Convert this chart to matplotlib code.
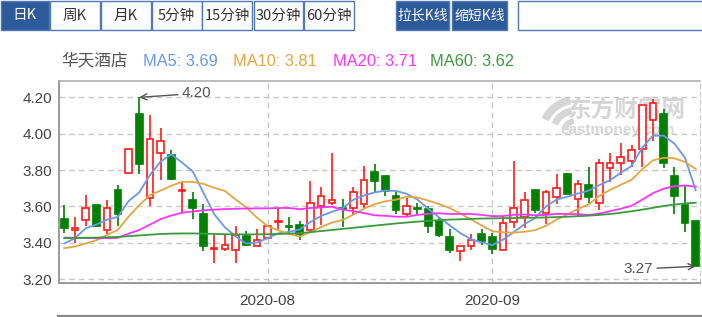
import matplotlib
matplotlib.use("Agg")
import matplotlib.pyplot as plt
from matplotlib.patches import Rectangle, Wedge
from matplotlib.lines import Line2D
from matplotlib.transforms import IdentityTransform
import numpy as np

plt.rcParams['font.family'] = ['Liberation Sans', 'Noto Sans CJK SC', 'DejaVu Sans']

# ---------------- data ----------------
stock_name = "华天酒店"
tab_labels = ["日K", "周K", "月K", "5分钟", "15分钟", "30分钟", "60分钟"]
button_labels = ["拉长K线", "缩短K线"]
month_labels = ["2020-08", "2020-09"]
month_positions = [19, 40]
y_ticks = [3.20, 3.40, 3.60, 3.80, 4.00, 4.20]

opens = [3.529, 3.472, 3.527, 3.608, 3.471, 3.690, 3.785, 4.109, 3.648, 3.892,
         3.880, 3.684, 3.635, 3.560, 3.363, 3.364, 3.361, 3.438, 3.383, 3.424,
         3.513, 3.492, 3.498, 3.471, 3.602, 3.620, 3.592, 3.589, 3.611, 3.790,
         3.767, 3.657, 3.556, 3.590, 3.584, 3.520, 3.432, 3.355, 3.383, 3.450,
         3.429, 3.361, 3.516, 3.542, 3.688, 3.566, 3.652, 3.780, 3.642, 3.717,
         3.620, 3.812, 3.840, 3.849, 3.918, 4.078, 4.109, 3.767, 3.608, 3.520]
highs = [3.606, 3.544, 3.661, 3.610, 3.635, 3.716, 3.918, 4.200, 4.101, 4.033,
         3.909, 3.739, 3.681, 3.611, 3.443, 3.443, 3.492, 3.465, 3.474, 3.500,
         3.589, 3.544, 3.520, 3.739, 3.706, 3.895, 3.642, 3.706, 3.822, 3.834,
         3.767, 3.681, 3.644, 3.620, 3.602, 3.542, 3.474, 3.383, 3.447, 3.474,
         3.456, 3.547, 3.849, 3.681, 3.690, 3.688, 3.780, 3.785, 3.743, 3.815,
         3.858, 3.895, 3.950, 3.937, 4.156, 4.190, 4.138, 3.816, 3.717, 3.520]
lows = [3.452, 3.397, 3.492, 3.486, 3.450, 3.492, 3.785, 3.776, 3.602, 3.745,
        3.745, 3.569, 3.529, 3.355, 3.291, 3.355, 3.291, 3.383, 3.380, 3.420,
        3.474, 3.456, 3.414, 3.461, 3.498, 3.610, 3.489, 3.553, 3.589, 3.681,
        3.657, 3.556, 3.542, 3.556, 3.456, 3.429, 3.341, 3.301, 3.359, 3.388,
        3.337, 3.358, 3.480, 3.483, 3.566, 3.502, 3.615, 3.663, 3.542, 3.620,
        3.578, 3.736, 3.772, 3.816, 3.816, 3.962, 3.812, 3.556, 3.461, 3.270]
closes = [3.480, 3.483, 3.589, 3.492, 3.589, 3.556, 3.918, 3.831, 3.971, 3.961,
          3.748, 3.692, 3.589, 3.383, 3.372, 3.388, 3.443, 3.388, 3.414, 3.493,
          3.520, 3.487, 3.450, 3.620, 3.657, 3.635, 3.586, 3.681, 3.743, 3.739,
          3.684, 3.578, 3.602, 3.584, 3.492, 3.443, 3.361, 3.383, 3.414, 3.410,
          3.365, 3.511, 3.589, 3.635, 3.578, 3.681, 3.703, 3.670, 3.721, 3.653,
          3.836, 3.840, 3.873, 3.909, 4.156, 4.169, 3.840, 3.657, 3.511, 3.270]

ma5 = [3.396, 3.425, 3.480, 3.500, 3.527, 3.542, 3.629, 3.677, 3.773, 3.847,
       3.886, 3.841, 3.792, 3.675, 3.557, 3.485, 3.435, 3.395, 3.401, 3.425,
       3.452, 3.460, 3.473, 3.514, 3.547, 3.570, 3.590, 3.636, 3.660, 3.677,
       3.687, 3.685, 3.669, 3.637, 3.588, 3.540, 3.496, 3.453, 3.419, 3.402,
       3.387, 3.417, 3.458, 3.502, 3.536, 3.599, 3.637, 3.653, 3.671, 3.686,
       3.717, 3.744, 3.785, 3.822, 3.923, 3.989, 3.989, 3.946, 3.867, 3.689]
ma10 = [3.370, 3.379, 3.396, 3.414, 3.443, 3.471, 3.543, 3.607, 3.662, 3.687,
        3.714, 3.735, 3.735, 3.724, 3.702, 3.685, 3.638, 3.594, 3.538, 3.491,
        3.468, 3.448, 3.434, 3.458, 3.486, 3.511, 3.525, 3.554, 3.587, 3.612,
        3.628, 3.637, 3.653, 3.649, 3.632, 3.613, 3.591, 3.561, 3.528, 3.495,
        3.463, 3.457, 3.455, 3.460, 3.469, 3.493, 3.527, 3.556, 3.586, 3.611,
        3.658, 3.691, 3.719, 3.746, 3.804, 3.853, 3.867, 3.865, 3.844, 3.806]
ma20 = [3.428, 3.427, 3.426, 3.425, 3.425, 3.427, 3.450, 3.470, 3.500, 3.530,
        3.550, 3.565, 3.572, 3.578, 3.582, 3.585, 3.587, 3.588, 3.589, 3.589,
        3.591, 3.591, 3.584, 3.591, 3.594, 3.598, 3.581, 3.574, 3.563, 3.551,
        3.548, 3.543, 3.543, 3.553, 3.559, 3.562, 3.558, 3.558, 3.558, 3.553,
        3.546, 3.547, 3.554, 3.555, 3.551, 3.553, 3.559, 3.558, 3.557, 3.553,
        3.560, 3.574, 3.587, 3.603, 3.637, 3.673, 3.697, 3.711, 3.715, 3.708]
ma60 = [3.425, 3.426, 3.427, 3.428, 3.430, 3.432, 3.436, 3.440, 3.444, 3.448,
        3.450, 3.451, 3.451, 3.450, 3.448, 3.447, 3.446, 3.446, 3.446, 3.447,
        3.448, 3.450, 3.453, 3.458, 3.464, 3.470, 3.476, 3.482, 3.488, 3.494,
        3.500, 3.506, 3.511, 3.516, 3.520, 3.524, 3.527, 3.529, 3.531, 3.533,
        3.534, 3.535, 3.536, 3.537, 3.538, 3.539, 3.541, 3.543, 3.546, 3.549,
        3.553, 3.558, 3.565, 3.573, 3.582, 3.592, 3.602, 3.610, 3.616, 3.620]

# ---------------- figure ----------------
W, H = 702, 317
fig = plt.figure(figsize=(W / 100, H / 100), dpi=100)
fig.patch.set_facecolor('white')


def fx(x):
    return x / W


def fy(y):
    return 1 - y / H


CJK = ['Noto Sans CJK SC', 'DejaVu Sans']
DARK = '#2c5a9b'
BORDER = '#5079b5'

# tabs
tab_edges = [0, 49, 100, 151, 202, 253, 303, 354]
for i, lab in enumerate(tab_labels):
    x0, x1 = tab_edges[i] + 0.5, tab_edges[i + 1] - 0.5
    sel = (i == 0)
    fig.add_artist(Rectangle((fx(x0), fy(30)), fx(x1 - x0), 29 / H,
                             transform=fig.transFigure,
                             facecolor=DARK if sel else 'white',
                             edgecolor=BORDER, lw=1.0))
    fig.text(fx((x0 + x1) / 2), fy(15.5), lab, ha='center', va='center',
             fontsize=10.5, color='white' if sel else '#333333', family=CJK)

# buttons
for lab, (x0, x1) in zip(button_labels, [(396, 449), (452, 507)]):
    fig.add_artist(Rectangle((fx(x0), fy(30)), fx(x1 - x0), 29 / H,
                             transform=fig.transFigure,
                             facecolor=DARK, edgecolor=BORDER, lw=1.0))
    fig.text(fx((x0 + x1) / 2), fy(15.5), lab, ha='center', va='center',
             fontsize=10, color='white', family=CJK)
fig.add_artist(Rectangle((fx(518), fy(30)), fx(200), 29 / H,
                         transform=fig.transFigure,
                         facecolor='white', edgecolor=BORDER, lw=1.0))

# legend line
fig.text(fx(61), fy(61), stock_name, ha='left', va='center', fontsize=12,
         color='#555555', family=CJK)
legend_items = [("MA5", ma5, '#6a98ec', 143), ("MA10", ma10, '#e6a640', 233),
                ("MA20", ma20, '#ff33ff', 333), ("MA60", ma60, '#3e9a3e', 430)]
for name, arr, col, xp in legend_items:
    fig.text(fx(xp), fy(61), f"{name}: {arr[-1]:.2f}", ha='left', va='center',
             fontsize=11.8, color=col)

# ---------------- axes ----------------
ax = fig.add_axes([fx(59), fy(282.5), fx(700) - fx(59), fy(81) - fy(282.5)])
ax.set_xlim(-0.5, 59.4)
ax.set_ylim(3.181, 4.29)

for yv in y_ticks:
    ax.axhline(yv, color='#c8c8c8', lw=1.0, ls=(0, (4, 3)), zorder=0.6)
for xv in month_positions:
    ax.axvline(xv, color='#c8c8c8', lw=1.0, ls=(0, (4, 3)), zorder=0.6)

for s in ['left', 'bottom']:
    ax.spines[s].set_color('#9a9a9a')
    ax.spines[s].set_linewidth(1.4)
ax.spines['top'].set_color('#b0b0b0')
ax.spines['top'].set_linewidth(1.2)
ax.spines['right'].set_color('#c8c8c8')
ax.spines['right'].set_linestyle((0, (4, 3)))

ax.set_yticks(y_ticks)
ax.set_yticklabels([f"{v:.2f}" for v in y_ticks])
ax.set_xticks(month_positions)
ax.set_xticklabels(month_labels)
ax.tick_params(axis='y', length=0, pad=5, labelsize=11, labelcolor='#444444')
ax.tick_params(axis='x', length=0, pad=8, labelsize=11, labelcolor='#444444')

# watermark (logo swoosh + text), logo in pixel coordinates
WM = '#d6d6d6'
for (r, w) in [(38, 8), (27, 7), (16, 6)]:
    ax.add_artist(Wedge((576, H - 134), r, 100, 155, width=w,
                        transform=IdentityTransform(), facecolor=WM,
                        edgecolor='none', zorder=0.5))
ax.text(fx(568), fy(110), "东方财富网", transform=fig.transFigure, ha='left',
        va='center', fontsize=17, color=WM, family=CJK,
        fontweight='bold', zorder=0.5)
ax.text(fx(560), fy(130), "eastmoney.com", transform=fig.transFigure,
        ha='left', va='center', fontsize=11, color=WM,
        fontweight='bold', zorder=0.5)

# candles
o = np.array(opens)
h = np.array(highs)
l = np.array(lows)
c = np.array(closes)
x = np.arange(len(o))
up = c >= o
RED = '#ff1a1a'
GRN = '#007f00'
cols = np.where(up, RED, GRN)
ax.vlines(x, l, h, colors=cols, lw=1.2, zorder=2)
body_bot = np.minimum(o, c)
body_h = np.maximum(np.abs(c - o), 0.004)
ax.bar(x, body_h, bottom=body_bot, width=0.62,
       color=np.where(up, 'white', GRN), edgecolor=cols, linewidth=1.2,
       zorder=3)

# MA lines
for name, arr, col, xp in legend_items:
    ax.plot(x, arr, color=col, lw=1.3, zorder=4)

# high / low annotations
imax = int(np.argmax(h))
imin = int(np.argmin(l))
ax.annotate(f"{h[imax]:.2f}", xy=(imax, h[imax]), xytext=(imax + 4.0, 4.222),
            ha='left', va='center', fontsize=11, color='#555555',
            arrowprops=dict(arrowstyle='->', color='#555555', lw=1.0,
                            shrinkA=1, shrinkB=0), zorder=5)
ax.annotate(f"{l[imin]:.2f}", xy=(imin, l[imin]), xytext=(imin - 4.0, 3.255),
            ha='right', va='center', fontsize=11, color='#555555',
            arrowprops=dict(arrowstyle='->', color='#555555', lw=1.0,
                            shrinkA=1, shrinkB=0), zorder=5)

# bottom rule
fig.add_artist(Line2D([fx(58), fx(702)], [fy(316), fy(316)],
                      transform=fig.transFigure, color='#888888', lw=1.6))

fig.savefig("out.png", dpi=100)
